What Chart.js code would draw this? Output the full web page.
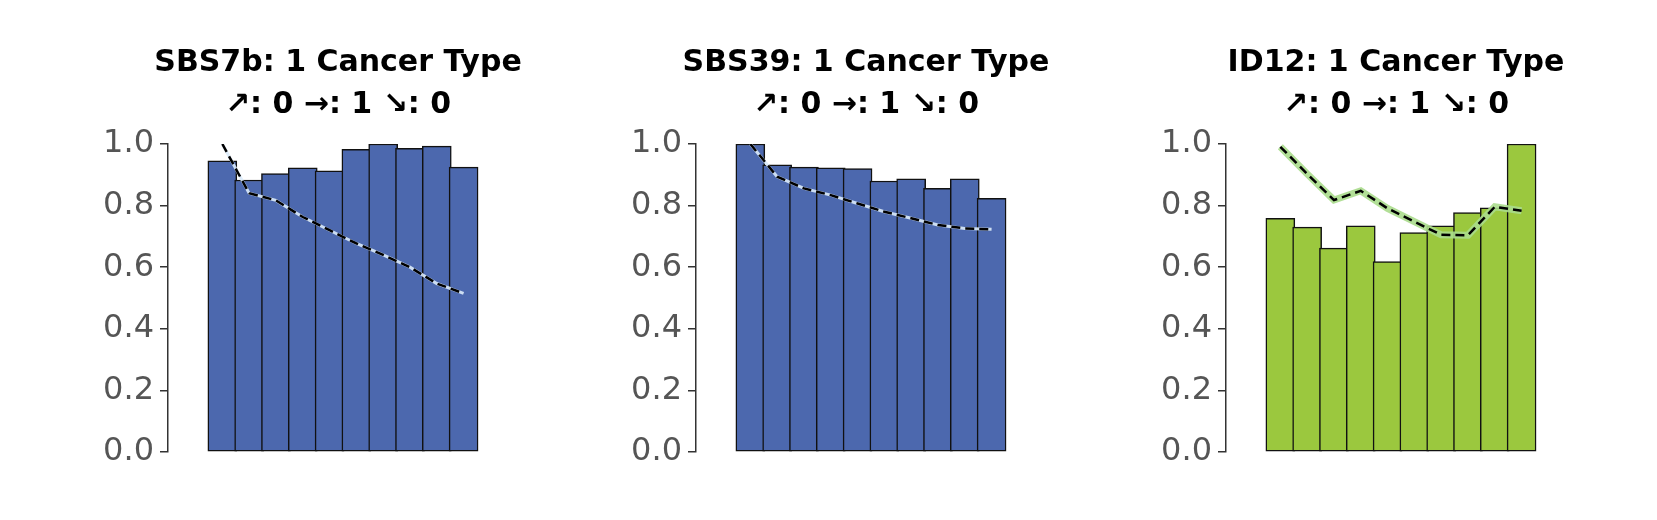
<!DOCTYPE html>
<html>
<head>
<meta charset="utf-8">
<script src="https://cdn.jsdelivr.net/npm/chart.js@4"></script>
<style>
  body { margin: 0; background: #fff; }
  .panel { position: absolute; top: 0; width: 529px; height: 520px; }
</style>
</head>
<body>
<div class="panel" style="left:68px"><canvas id="c0"></canvas></div>
<div class="panel" style="left:596px"><canvas id="c1"></canvas></div>
<div class="panel" style="left:1126px"><canvas id="c2"></canvas></div>
<script>
const titles = ['SBS7b: 1 Cancer Type', 'SBS39: 1 Cancer Type', 'ID12: 1 Cancer Type'];
const subtitle = '↗: 0 →: 1 ↘: 0';
const yTicks = [0, 0.2, 0.4, 0.6, 0.8, 1.0];

const sbs7bBars = [0.945, 0.883, 0.904, 0.923, 0.913, 0.983, 1.0, 0.986, 0.993, 0.925];
const sbs7bTrend = [1.0, 0.84, 0.817, 0.763, 0.72, 0.677, 0.64, 0.60, 0.547, 0.515];
const sbs39Bars = [1.0, 0.932, 0.925, 0.923, 0.92, 0.88, 0.887, 0.856, 0.887, 0.824];
const sbs39Trend = [1.0, 0.894, 0.856, 0.834, 0.807, 0.78, 0.759, 0.737, 0.726, 0.723];
const id12Bars = [0.759, 0.73, 0.662, 0.734, 0.618, 0.712, 0.734, 0.777, 0.793, 1.0];
const id12Trend = [0.991, 0.903, 0.818, 0.848, 0.791, 0.748, 0.705, 0.704, 0.796, 0.783];

const panels = [
  { id: 'c0', title: titles[0], bars: sbs7bBars, trend: sbs7bTrend, fill: '#4c68ae', halo: 'rgba(220,235,250,0.9)', haloWidth: 3 },
  { id: 'c1', title: titles[1], bars: sbs39Bars, trend: sbs39Trend, fill: '#4c68ae', halo: 'rgba(220,235,250,0.9)', haloWidth: 3 },
  { id: 'c2', title: titles[2], bars: id12Bars, trend: id12Trend, fill: '#9bc83e', halo: 'rgba(170,220,140,0.9)', haloWidth: 7 },
];

const titlePlugin = {
  id: 'panelTitle',
  afterDraw(chart, args, opts) {
    const { ctx, chartArea } = chart;
    const cx = (chartArea.left + chartArea.right) / 2;
    ctx.save();
    ctx.fillStyle = '#000';
    ctx.textAlign = 'center';
    ctx.textBaseline = 'middle';
    ctx.font = "bold 30px 'DejaVu Sans'";
    ctx.fillText(opts.text, cx, 63);
    ctx.fillText(subtitle, cx, 105);
    ctx.restore();
  },
};

function points(values) {
  return values.map((v, i) => ({ x: i, y: v }));
}

panels.forEach((p) => {
  new Chart(document.getElementById(p.id), {
    data: {
      datasets: [
        { type: 'line', data: points(p.trend), borderColor: '#000', borderWidth: 2.5, borderDash: [9, 5], pointRadius: 0, order: 0 },
        { type: 'line', data: points(p.trend), borderColor: p.halo, borderWidth: p.haloWidth, pointRadius: 0, order: 1 },
        { type: 'bar', data: points(p.bars), backgroundColor: p.fill, borderColor: '#111', borderWidth: 1.5, borderSkipped: false, barThickness: 29, order: 2 },
      ],
    },
    plugins: [titlePlugin],
    options: {
      responsive: true,
      maintainAspectRatio: false,
      animation: false,
      parsing: false,
      layout: { padding: { top: 144, bottom: 68, right: 89, left: 0 } },
      plugins: { legend: { display: false }, tooltip: { enabled: false }, panelTitle: { text: p.title } },
      scales: {
        x: { type: 'linear', min: -0.97, max: 9.6, display: false },
        y: {
          min: 0,
          max: 1,
          afterFit: (s) => { s.width = 100; },
          afterBuildTicks: (s) => { s.ticks = yTicks.map((v) => ({ value: v })); },
          ticks: { color: '#555', font: { family: "'DejaVu Sans'", size: 32 }, padding: 6, callback: (v) => v.toFixed(1) },
          grid: { drawOnChartArea: false, color: '#333', tickLength: 8, lineWidth: 1.5 },
          border: { color: '#333', width: 1.5 },
        },
      },
    },
  });
});
</script>
</body>
</html>
